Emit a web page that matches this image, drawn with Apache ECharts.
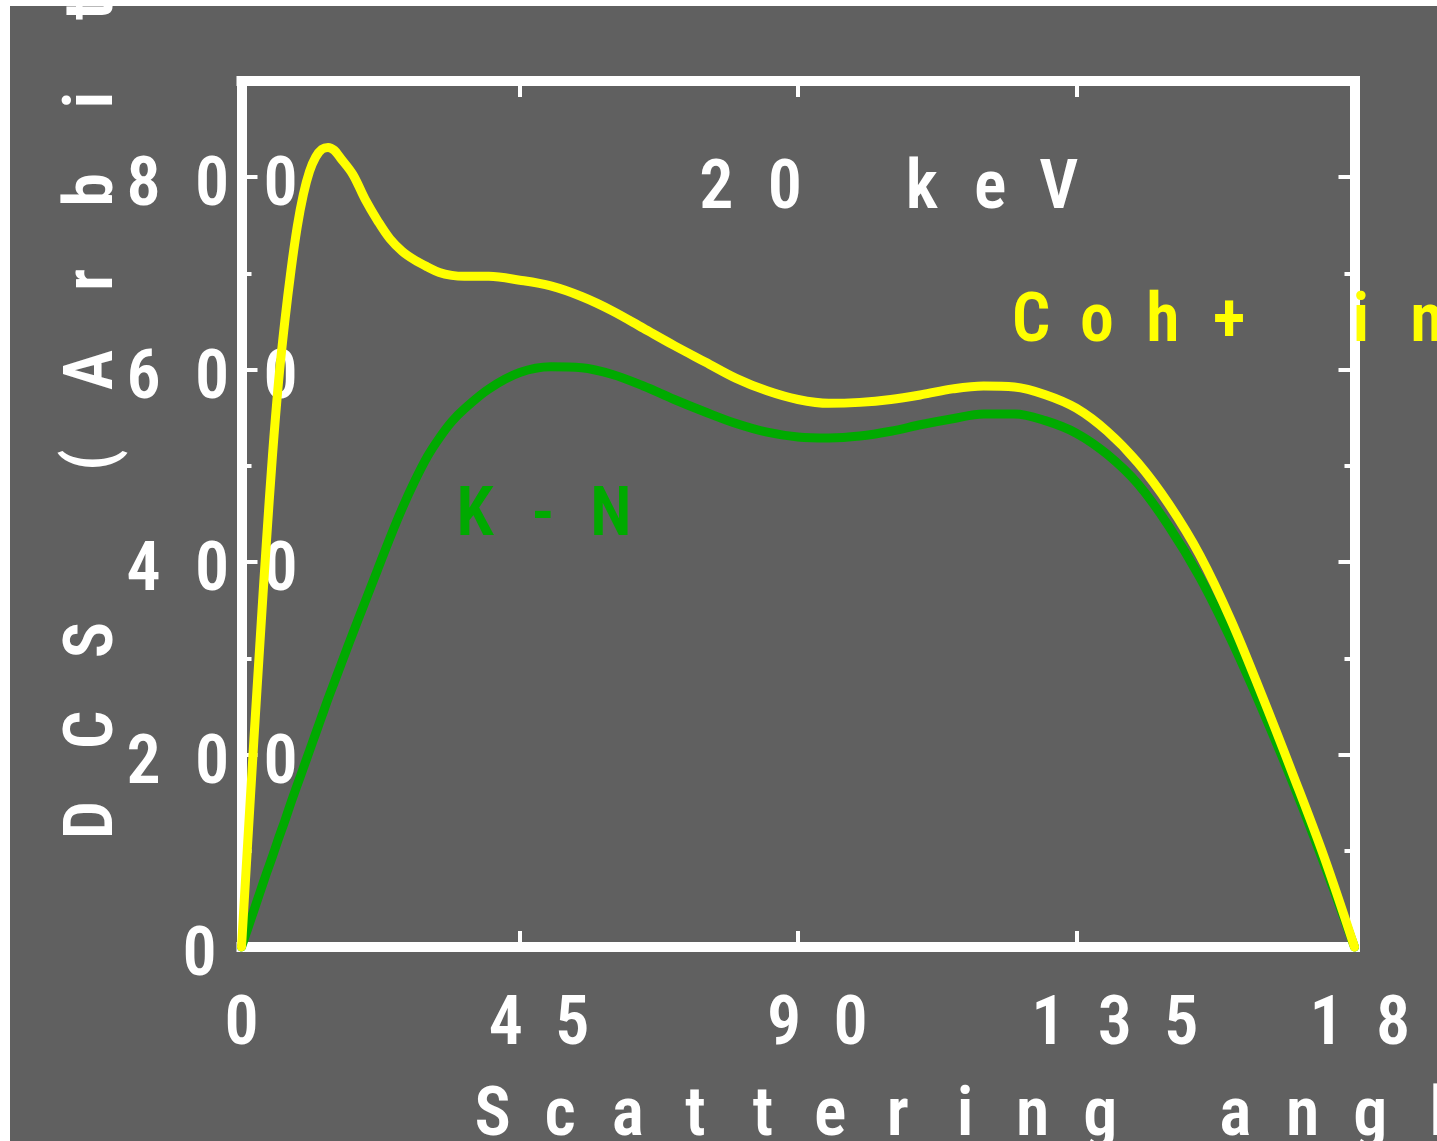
<!DOCTYPE html>
<html>
<head>
<meta charset="utf-8">
<script src="https://cdn.jsdelivr.net/npm/echarts@6/dist/echarts.min.js"></script>
<style>
  html, body { margin: 0; padding: 0; background: #ffffff; }
  #chart { width: 1437px; height: 1141px; }
</style>
</head>
<body>
<div id="chart"></div>
<script>
// Scattering angle samples (degrees)
const angles = [0, 1, 2, 3, 4, 5, 6, 7, 8, 9, 10, 11, 12, 13, 14, 15, 16,
  18, 20, 22, 24, 26, 28, 30, 32, 34, 36,
  40, 45, 50, 55, 60, 65, 70, 75, 80, 85, 90, 95, 100, 105, 110, 115, 120, 125, 130, 135, 140, 145, 150,
  155, 160, 165, 170, 175, 180];

// Coherent + incoherent differential cross section
const cohIncoh = [0, 108, 215, 318, 418, 510, 588, 650, 703, 748, 782, 806, 821, 829, 831, 828, 820,
  803, 777, 755, 736, 723, 714, 707, 701, 698, 697,
  697, 693, 687, 676, 661, 643, 625, 608, 591, 578, 569, 565, 566, 569, 574, 580, 583, 582, 574, 560,
  536, 503, 460, 407, 340, 262, 180, 95, 0];

// Klein-Nishina differential cross section
const kleinNishina = [0, 19, 38, 57, 76, 94, 113, 131, 150, 168, 186, 204, 222, 240, 258, 275, 292,
  326, 359, 392, 425, 456, 484, 509, 529, 546, 559,
  580, 597, 603, 602, 595, 583, 569, 556, 544, 535, 530, 529, 531, 536, 543, 549, 554, 554, 547, 534,
  512, 481, 437, 384, 320, 248, 171, 88, 0];

const xTickValues = [0, 45, 90, 135, 180];
const yTickValues = [0, 200, 400, 600, 800];

const energyText = '20 keV';
const cohText = 'Coh+ incoh';
const knText = 'K-N';
const xTitle = 'Scattering angle (degrees)';
const yTitle = 'DCS (Arbitrary units)';

const FAMILY = '"Roboto Condensed", Roboto, "DejaVu Sans Condensed", sans-serif';
const WEIGHT = '600 condensed';
const FS = 68;
const FONT = WEIGHT + ' ' + FS + 'px ' + FAMILY;
const WHITE = '#ffffff';
const YELLOW = '#ffff00';
const GREEN = '#00aa00';

// every character sits in its own fixed-width cell
function cells(str, styleName) {
  return str.split('').map(ch => '{' + styleName + '|' + ch + '}').join('');
}
function pads(count, styleName) {
  let s = '';
  for (let i = 0; i < count; i++) s += '{' + styleName + '| }';
  return s;
}
function cellStyle(width, color) {
  return { width: width, align: 'center', fontSize: FS, fontWeight: WEIGHT, fontFamily: FAMILY,
           color: color, fill: color, lineHeight: 70 };
}

const axisLineStyle = { show: true, onZero: false, lineStyle: { color: WHITE, width: 10, cap: 'square' } };
const majorTick = { show: true, inside: true, length: 16, lineStyle: { color: WHITE, width: 4 } };
const minorTickAxis = { show: true, inside: true, length: 10, lineStyle: { color: WHITE, width: 4 } };
const noLine = { show: false, onZero: false };

const chart = echarts.init(document.getElementById('chart'), null, { renderer: 'canvas' });

const option = {
  backgroundColor: '#606060',
  animation: false,
  grid: { left: 241.5, right: 82.5, top: 81, bottom: 194, containLabel: false, outerBoundsMode: 'none' },
  xAxis: [
    {
      type: 'value', position: 'bottom', min: 0, max: 180, interval: 45,
      axisLine: axisLineStyle, axisTick: majorTick, splitLine: { show: false },
      axisLabel: {
        show: true, margin: 45, align: 'center', verticalAlign: 'top',
        showMinLabel: true, showMaxLabel: true, hideOverlap: false,
        formatter: function (v) {
          if (xTickValues.indexOf(v) < 0) return '';
          const s = String(v);
          return pads(s.length - 1, 'p') + cells(s, 'c');
        },
        rich: { c: cellStyle(66.5, WHITE), p: cellStyle(38.5, WHITE) }
      }
    },
    {
      type: 'value', position: 'top', min: 0, max: 180, interval: 45,
      axisLine: axisLineStyle, axisTick: majorTick, splitLine: { show: false },
      axisLabel: { show: false }
    }
  ],
  yAxis: [
    {
      type: 'value', position: 'left', min: 0, max: 900, interval: 200,
      axisLine: axisLineStyle, axisTick: majorTick, splitLine: { show: false },
      axisLabel: {
        show: true, margin: 132.25, align: 'left', verticalAlign: 'middle', padding: [22, 0, 0, 0],
        showMinLabel: true, showMaxLabel: true, hideOverlap: false,
        formatter: function (v) {
          if (yTickValues.indexOf(v) < 0) return '';
          const s = String(v);
          return pads(3 - s.length, 'q') + cells(s, 'c');
        },
        rich: { c: cellStyle(68.5, WHITE), q: cellStyle(28, WHITE) }
      }
    },
    {
      type: 'value', position: 'left', min: 0, max: 900, interval: 100,
      axisLine: noLine, axisTick: minorTickAxis, splitLine: { show: false },
      axisLabel: { show: false }
    },
    {
      type: 'value', position: 'right', min: 0, max: 900, interval: 200,
      axisLine: axisLineStyle, axisTick: majorTick, splitLine: { show: false },
      axisLabel: { show: false }
    },
    {
      type: 'value', position: 'right', min: 0, max: 900, interval: 100,
      axisLine: noLine, axisTick: minorTickAxis, splitLine: { show: false },
      axisLabel: { show: false }
    }
  ],
  series: [
    {
      name: 'K-N', type: 'line', xAxisIndex: 0, yAxisIndex: 0,
      data: angles.map((a, i) => [a, kleinNishina[i]]),
      showSymbol: false, symbol: 'none', smooth: 0.35, clip: false, z: 3,
      lineStyle: { color: GREEN, width: 9, cap: 'round', join: 'round' }
    },
    {
      name: 'Coh+ incoh', type: 'line', xAxisIndex: 0, yAxisIndex: 0,
      data: angles.map((a, i) => [a, cohIncoh[i]]),
      showSymbol: false, symbol: 'none', smooth: 0.35, clip: false, z: 4,
      lineStyle: { color: YELLOW, width: 9, cap: 'round', join: 'round' }
    }
  ],
  graphic: [
    {
      type: 'text', x: 682, y: 191, z: 10,
      style: { text: cells(energyText, 'e'), rich: { e: cellStyle(68.5, WHITE) },
               font: FONT, fill: WHITE, textAlign: 'left', textVerticalAlign: 'middle' }
    },
    {
      type: 'text', x: 998, y: 324, z: 10,
      style: { text: cells(cohText, 'y'), rich: { y: cellStyle(66, YELLOW) },
               font: FONT, fill: YELLOW, textAlign: 'left', textVerticalAlign: 'middle' }
    },
    {
      type: 'text', x: 441, y: 518, z: 10,
      style: { text: cells(knText, 'g'), rich: { g: cellStyle(68, GREEN) },
               font: FONT, fill: GREEN, textAlign: 'left', textVerticalAlign: 'middle' }
    },
    {
      type: 'text', x: 459, y: 1118, z: 10,
      style: { text: cells(xTitle, 't'), rich: { t: cellStyle(67.5, WHITE) },
               font: FONT, fill: WHITE, textAlign: 'left', textVerticalAlign: 'middle' }
    },
    {
      type: 'text', x: 95, y: 865, rotation: Math.PI / 2, z: 10,
      style: { text: cells(yTitle, 'v'), rich: { v: cellStyle(90, WHITE) },
               font: FONT, fill: WHITE, textAlign: 'left', textVerticalAlign: 'middle' }
    },
    {
      type: 'rect', z: 50, silent: true,
      shape: { x: 0, y: 0, width: 10, height: 1141 }, style: { fill: WHITE }
    },
    {
      type: 'rect', z: 50, silent: true,
      shape: { x: 0, y: 0, width: 1437, height: 6 }, style: { fill: WHITE }
    }
  ]
};

chart.setOption(option);
</script>
</body>
</html>
